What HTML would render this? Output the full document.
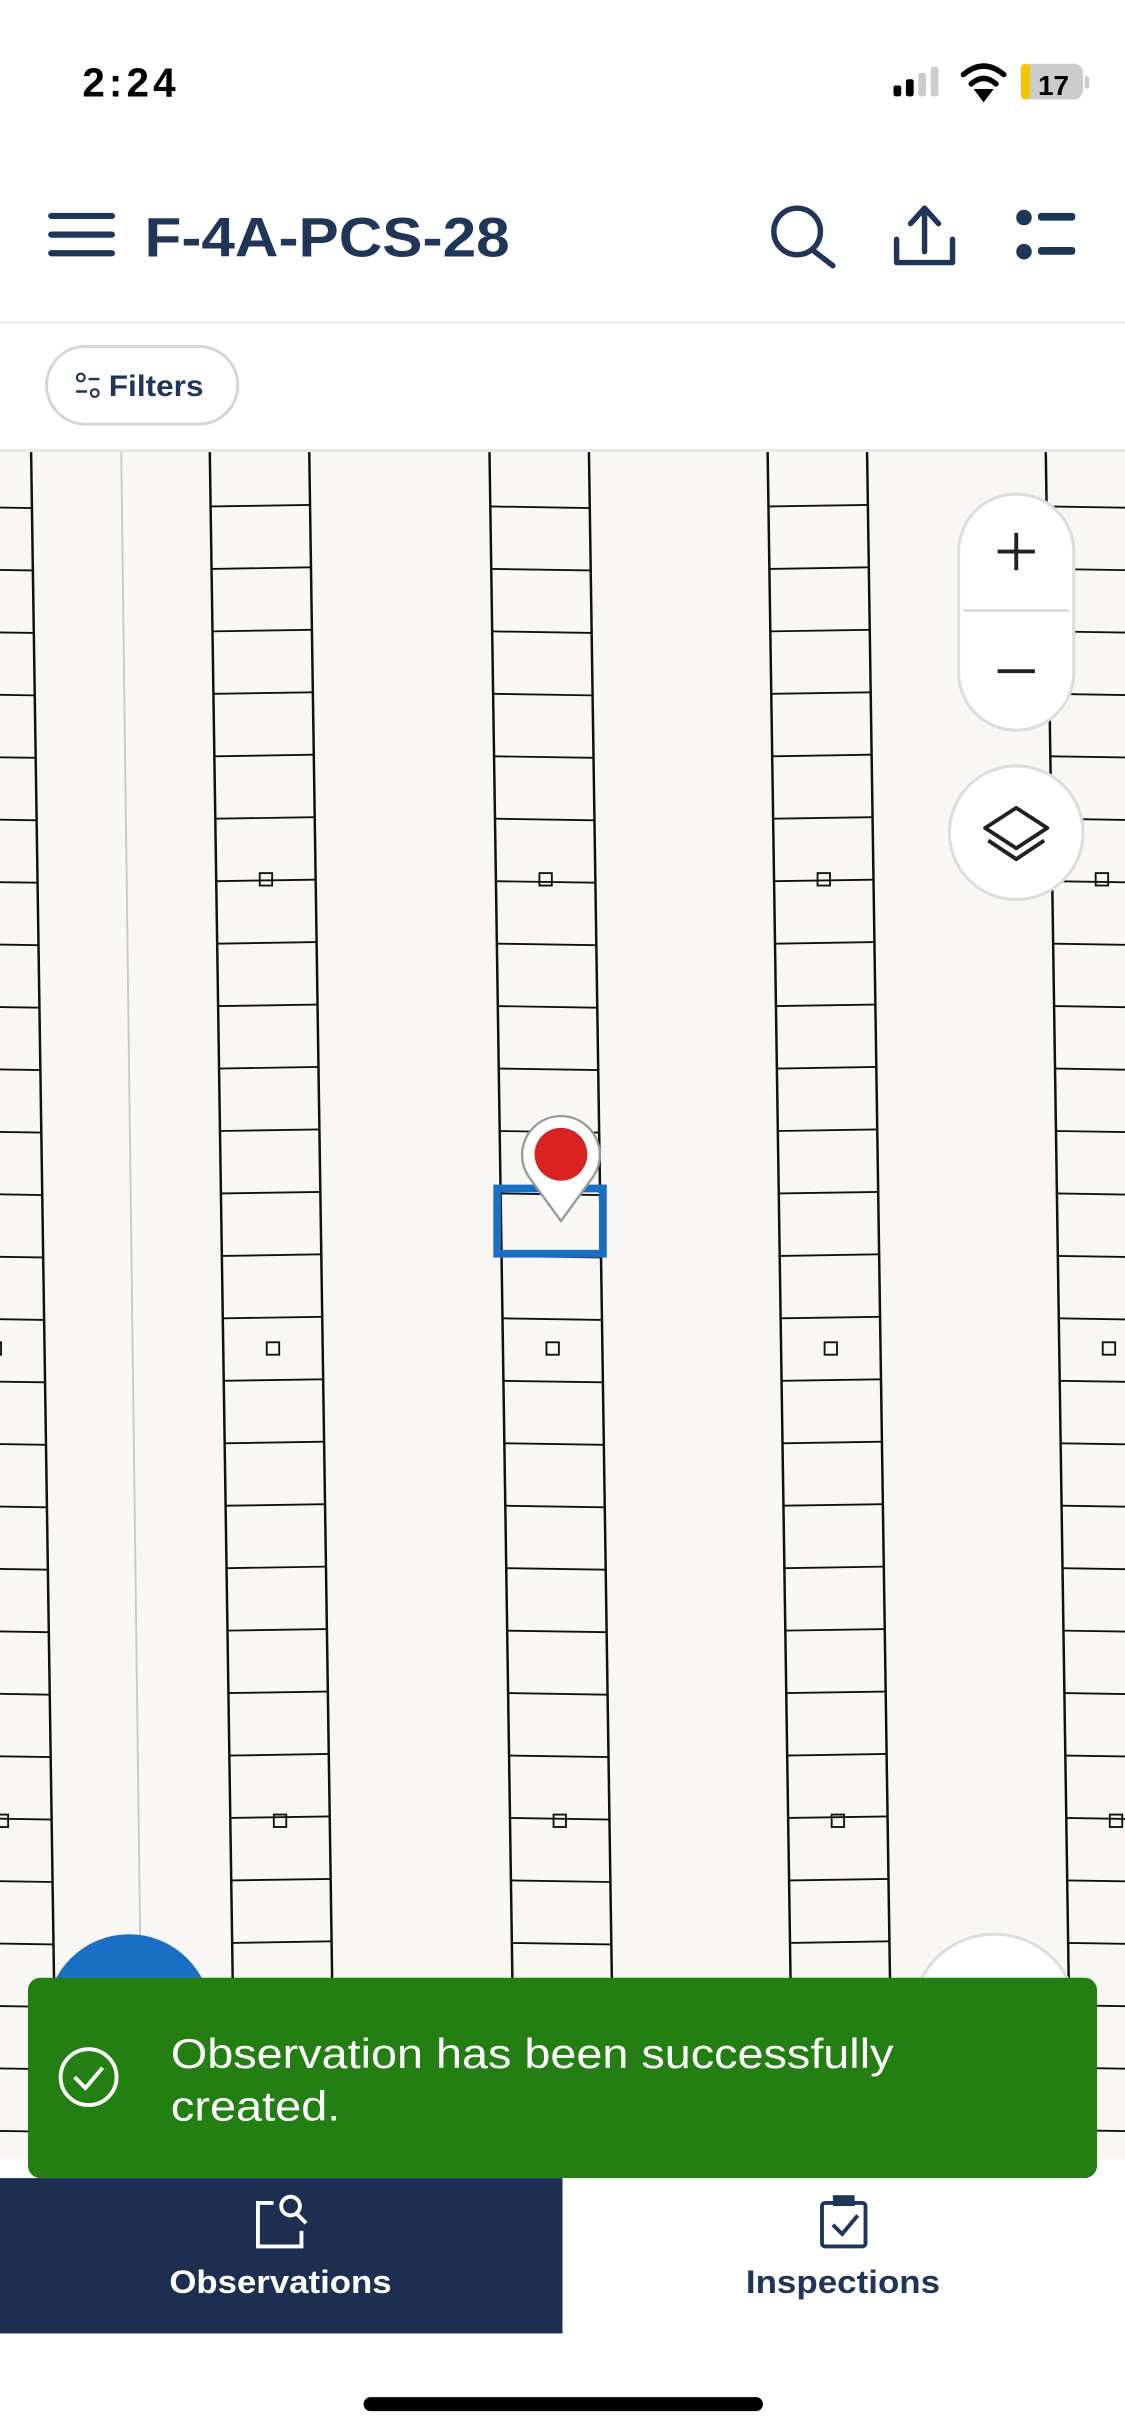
<!DOCTYPE html>
<html><head><meta charset="utf-8"><style>
html,body{margin:0;padding:0;background:#fff;}
svg{display:block;width:1125px;height:2436px;}
text{font-family:"Liberation Sans",sans-serif;}
</style></head><body>
<svg id="s" viewBox="0 0 724 1568" preserveAspectRatio="none">
<rect width="724" height="1568" fill="#fff"/>
<g id="map">
<rect x="0" y="290" width="724" height="1100" fill="#f8f7f4"/>
<line x1="78" y1="290" x2="92" y2="1390" stroke="#c8c8c8" stroke-width="1.2"/>
</g>
<text x="53" y="62" font-size="26" font-weight="700" fill="#000" textLength="60">2:24</text>
<g>
<rect x="575" y="55" width="5" height="7" rx="1.5" fill="#000"/><rect x="583" y="51" width="5" height="11" rx="1.5" fill="#000"/>
<rect x="591" y="47" width="5" height="15" rx="1.5" fill="#ccc"/><rect x="599" y="43" width="5" height="19" rx="1.5" fill="#ccc"/>
</g>
<g fill="none" stroke="#000" stroke-width="3.5" stroke-linecap="round">
<path d="M620 48 Q633 37 646 48"/><path d="M625 54 Q633 47 641 54"/><path d="M630 59 L633 63 L636 59 Z" fill="#000"/>
</g>
<g>
<rect x="657" y="41" width="40" height="23" rx="6" fill="#ccc"/><rect x="657" y="41" width="6" height="23" rx="3" fill="#f5c400"/>
<rect x="698" y="49" width="3" height="8" rx="1.5" fill="#ccc"/>
<text x="668" y="61" font-size="18" font-weight="700" fill="#000">17</text>
</g>
<g stroke="#1f3659" stroke-width="4" stroke-linecap="round">
<line x1="33" y1="139" x2="72" y2="139"/><line x1="33" y1="151" x2="72" y2="151"/><line x1="33" y1="163" x2="72" y2="163"/>
</g>
<text x="93" y="165" font-size="36" font-weight="700" fill="#1f3659" textLength="235" lengthAdjust="spacingAndGlyphs">F-4A-PCS-28</text>
<g fill="none" stroke="#1f3659" stroke-width="3.5" stroke-linecap="round">
<circle cx="513" cy="149" r="15"/><line x1="523" y1="161" x2="536" y2="171"/>
</g>
<g fill="none" stroke="#1f3659" stroke-width="3.5" stroke-linecap="round" stroke-linejoin="round">
<line x1="595" y1="135" x2="595" y2="162"/><path d="M586 144 L595 134 L604 144"/><path d="M577 154 V169 H613 V154"/>
</g>
<g fill="#1f3659">
<circle cx="659" cy="140" r="5"/><circle cx="659" cy="162" r="5"/>
<rect x="668" y="137" width="24" height="5" rx="2"/><rect x="668" y="159" width="24" height="5" rx="2"/>
</g>
<line x1="0" y1="207.5" x2="724" y2="207.5" stroke="#e2e2e2" stroke-width="1"/>
<g>
<rect x="30" y="223" width="123" height="50" rx="25" fill="#fff" stroke="#d3d6dc" stroke-width="2"/>
<circle cx="52" cy="243" r="2.5" fill="none" stroke="#1f3659" stroke-width="1.4"/><line x1="57" y1="244" x2="64" y2="244" stroke="#1f3659" stroke-width="1.6"/>
<circle cx="61" cy="253" r="2.5" fill="none" stroke="#1f3659" stroke-width="1.4"/><line x1="49" y1="252" x2="56" y2="252" stroke="#1f3659" stroke-width="1.6"/>
<text x="70" y="255" font-size="19" font-weight="700" fill="#1f3659" textLength="61" lengthAdjust="spacingAndGlyphs">Filters</text>
</g>
<rect x="0" y="289" width="724" height="2" fill="#e8e8e8"/>
<g>
<rect x="617" y="318" width="74" height="152" rx="37" fill="#fff" stroke="#ddd" stroke-width="2"/>
<line x1="620" y1="393" x2="688" y2="393" stroke="#ddd" stroke-width="2"/>
</g>
<g stroke="#222" stroke-width="2.5"><line x1="642" y1="355" x2="666" y2="355"/><line x1="654" y1="343" x2="654" y2="367"/></g>
<g stroke="#222" stroke-width="2.5"><line x1="642" y1="432" x2="666" y2="432"/></g>
<g>
<circle cx="654" cy="536" r="43" fill="#fff" stroke="#ddd" stroke-width="2"/>
<path d="M654 520 L674 533 L654 546 L634 533 Z" fill="none" stroke="#222" stroke-width="2.5" stroke-linejoin="round"/>
<path d="M636 541 L654 553 L672 541" fill="none" stroke="#222" stroke-width="2.5" stroke-linejoin="round"/>
</g>
<rect x="320" y="765" width="68" height="42" fill="none" stroke="#1a6fc4" stroke-width="5"/>
<g>
<path d="M361 786 L340 757 A25 25 0 1 1 382 757 Z" fill="#fff" stroke="#999" stroke-width="1.5"/>
<circle cx="361" cy="743" r="17" fill="#d92323"/>
</g>
<circle cx="83" cy="1298" r="53" fill="#1a6fc4"/>
<circle cx="640" cy="1298" r="53" fill="#fff" stroke="#ddd" stroke-width="2"/>
<g>
<rect x="18" y="1273" width="688" height="129" rx="8" fill="#237f12"/>
<circle cx="57" cy="1337" r="18" fill="none" stroke="#fff" stroke-width="2.5"/>
<path d="M48 1337 L55 1344 L66 1331" fill="none" stroke="#fff" stroke-width="2.5"/>
<text x="110" y="1331" font-size="27" fill="#fff" textLength="465" lengthAdjust="spacingAndGlyphs">Observation has been successfully</text>
<text x="110" y="1365" font-size="27" fill="#fff" textLength="109" lengthAdjust="spacingAndGlyphs">created.</text>
</g>
<g>
<rect x="0" y="1402" width="362" height="100" fill="#1c2f50"/>
<path d="M176 1418 H166 V1446 H194 V1436" fill="none" stroke="#fff" stroke-width="2.5"/>
<circle cx="187" cy="1420" r="6" fill="none" stroke="#fff" stroke-width="2.5"/><line x1="191" y1="1425" x2="197" y2="1431" stroke="#fff" stroke-width="2.5"/>
<text x="109" y="1476" font-size="21" font-weight="700" fill="#fff" textLength="143" lengthAdjust="spacingAndGlyphs">Observations</text>
</g>
<g>
<rect x="362" y="1402" width="362" height="100" fill="#fff"/>
<rect x="529" y="1418" width="28" height="28" rx="2" fill="none" stroke="#1f3659" stroke-width="2.5"/>
<rect x="536" y="1413" width="14" height="7" fill="#1f3659"/>
<path d="M536 1432 L542 1438 L552 1426" fill="none" stroke="#1f3659" stroke-width="2.5"/>
<text x="480" y="1476" font-size="21" font-weight="700" fill="#1f3659" textLength="125" lengthAdjust="spacingAndGlyphs">Inspections</text>
</g>
<rect x="234" y="1543" width="257" height="9" rx="4.5" fill="#000"/>
</svg>
<script>
const NS="http://www.w3.org/2000/svg";
const map=document.getElementById('map');
const strips=[-44,135,315,494,673];
const slope=15/1000;
function L(x1,y1,x2,y2,w){const l=document.createElementNS(NS,'line');l.setAttribute('x1',x1);l.setAttribute('y1',y1);l.setAttribute('x2',x2);l.setAttribute('y2',y2);l.setAttribute('stroke','#111');l.setAttribute('stroke-width',w);map.appendChild(l);return l;}
strips.forEach((x0,si)=>{
 const xa=y=>x0+(y-290)*slope;
 L(xa(290),290,xa(1390),1390,1.6);L(xa(290)+64,290,xa(1390)+64,1390,1.6);
 for(let y=326;y<1390;y+=40.2){L(xa(y),y,xa(y)+64,y+(si%2?-1:1),1.2);}
 [566,868,1172].forEach(y=>{const r=document.createElementNS(NS,'rect');r.setAttribute('x',xa(y)+28);r.setAttribute('y',y-4);r.setAttribute('width',8);r.setAttribute('height',8);r.setAttribute('fill','none');r.setAttribute('stroke','#111');r.setAttribute('stroke-width',1.2);
 
 
 map.appendChild(r);});
});
</script>
</body></html>
